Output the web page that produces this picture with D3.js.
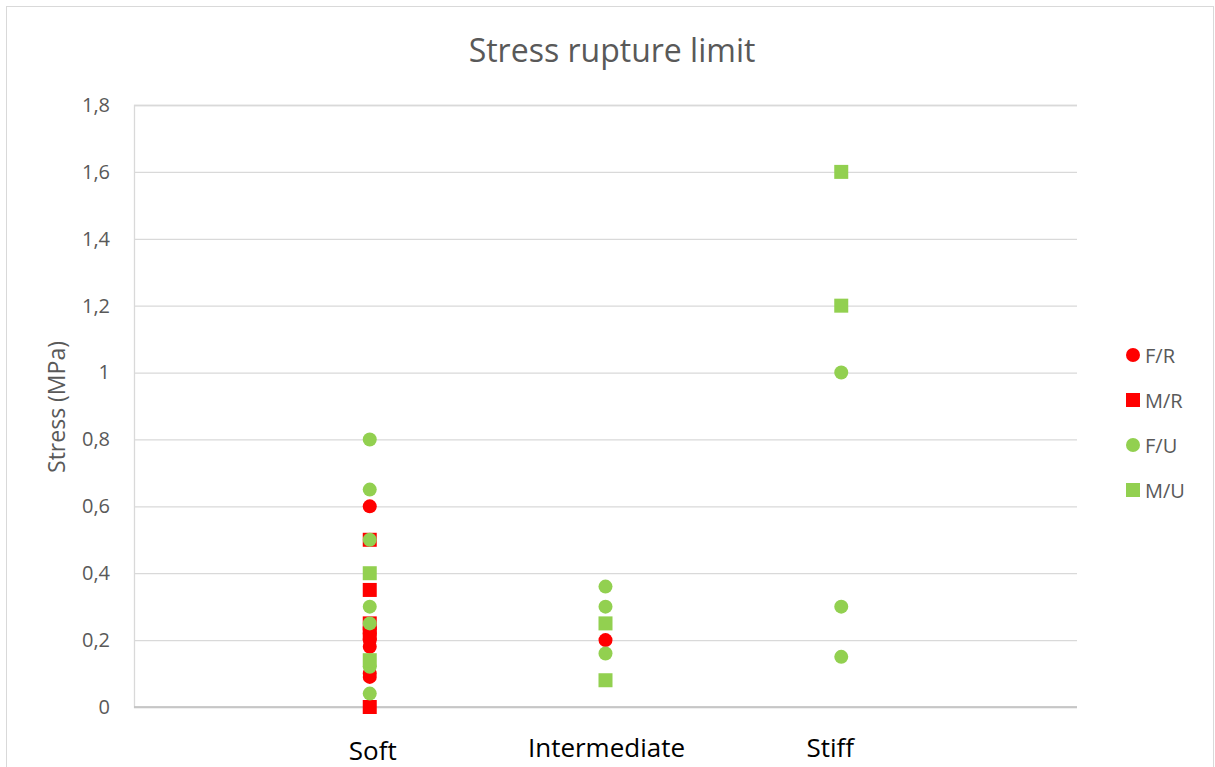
<!DOCTYPE html>
<html>
<head>
<meta charset="utf-8">
<script src="https://cdn.jsdelivr.net/npm/d3@7"></script>
<style>
html,body{margin:0;padding:0;background:#fff;}
svg{display:block;font-family:"Open Sans","Liberation Sans",sans-serif;}
</style>
</head>
<body>
<svg id="chart" width="1215" height="767"></svg>
<script>
// ---- data ----
const categories = ["Soft", "Intermediate", "Stiff"];
const yTicks = [0, 0.2, 0.4, 0.6, 0.8, 1, 1.2, 1.4, 1.6, 1.8];
const seriesNames = ["F/R", "M/R", "F/U", "M/U"];
const seriesColors = ["#ff0000", "#ff0000", "#92d050", "#92d050"];
const seriesShapes = ["circle", "square", "circle", "square"];
// values: [category index (1-based), stress]
const fr = [[1, 0.6], [1, 0.22], [1, 0.2], [1, 0.18], [1, 0.1], [1, 0.09], [2, 0.2]];
const mr = [[1, 0.5], [1, 0.35], [1, 0.25], [1, 0.22], [1, 0]];
const fu = [[1, 0.8], [1, 0.65], [1, 0.5], [1, 0.3], [1, 0.25], [1, 0.12], [1, 0.04],
            [2, 0.36], [2, 0.3], [2, 0.16], [3, 1.0], [3, 0.3], [3, 0.15]];
const mu = [[1, 0.4], [1, 0.14], [2, 0.25], [2, 0.08], [3, 1.6], [3, 1.2]];
const seriesData = [fr, mr, fu, mu];

const svg = d3.select("#chart");
const W = 1215, H = 767;
const plot = {left: 134, right: 1077, top: 105, bottom: 707};

// outer border
svg.append("rect").attr("x", 6.5).attr("y", 6.5).attr("width", W - 8).attr("height", H - 4)
  .attr("fill", "#fff").attr("stroke", "#d9d9d9").attr("stroke-width", 1);

const x = d3.scaleLinear().domain([0, 4]).range([plot.left, plot.right]);
const y = d3.scaleLinear().domain([0, 1.8]).range([plot.bottom, plot.top]);

// gridlines + y tick labels
const yAxis = d3.axisLeft(y).tickValues(yTicks)
  .tickSize(-(plot.right - plot.left))
  .tickFormat(d => d3.format("~g")(d).replace(".", ","))
  .tickPadding(24);
const gy = svg.append("g").attr("transform", `translate(${plot.left},0)`).call(yAxis);
gy.select(".domain").attr("stroke", "#d9d9d9").attr("stroke-width", 1.3);
gy.selectAll(".tick line").attr("stroke", "#d9d9d9").attr("stroke-width", 1.3);
gy.selectAll(".tick text").attr("fill", "#595959").attr("font-size", 20)
  .attr("font-family", "Open Sans");

// x axis line
svg.append("line").attr("x1", plot.left).attr("x2", plot.right)
  .attr("y1", y(0)).attr("y2", y(0)).attr("stroke", "#bfbfbf").attr("stroke-width", 1.5);

// category labels (placed as text boxes below the axis)
const catDx = [3, 1, -11];
const catBaseline = [53, 50, 50];
svg.append("g").selectAll("text").data(categories).join("text")
  .attr("x", (d, i) => x(i + 1) + catDx[i])
  .attr("y", (d, i) => y(0) + catBaseline[i])
  .attr("text-anchor", "middle")
  .attr("font-size", 26).attr("fill", "#000")
  .text(d => d);

// title
svg.append("text").attr("x", 612).attr("y", 62).attr("text-anchor", "middle")
  .attr("font-size", 32).attr("fill", "#595959").text("Stress rupture limit");

// y axis title
svg.append("text").attr("transform", `translate(65,${(plot.top + plot.bottom) / 2 + 1}) rotate(-90)`)
  .attr("text-anchor", "middle").attr("font-size", 23).attr("fill", "#595959")
  .text("Stress (MPa)");

// points
const r = 7, s = 14;
seriesData.forEach((data, si) => {
  const g = svg.append("g");
  if (seriesShapes[si] === "circle") {
    g.selectAll("circle").data(data).join("circle")
      .attr("cx", d => x(d[0])).attr("cy", d => y(d[1])).attr("r", r)
      .attr("fill", seriesColors[si]);
  } else {
    g.selectAll("rect").data(data).join("rect")
      .attr("x", d => x(d[0]) - s / 2).attr("y", d => y(d[1]) - s / 2)
      .attr("width", s).attr("height", s)
      .attr("fill", seriesColors[si]);
  }
});

// legend
const legend = svg.append("g");
seriesNames.forEach((name, i) => {
  const ly = 355 + i * 45;
  if (seriesShapes[i] === "circle") {
    legend.append("circle").attr("cx", 1133).attr("cy", ly).attr("r", 7).attr("fill", seriesColors[i]);
  } else {
    legend.append("rect").attr("x", 1126).attr("y", ly - 7).attr("width", 14).attr("height", 14).attr("fill", seriesColors[i]);
  }
  legend.append("text").attr("x", 1145).attr("y", ly).attr("dominant-baseline", "central")
    .attr("font-size", 20).attr("fill", "#595959").text(name);
});
</script>
</body>
</html>
